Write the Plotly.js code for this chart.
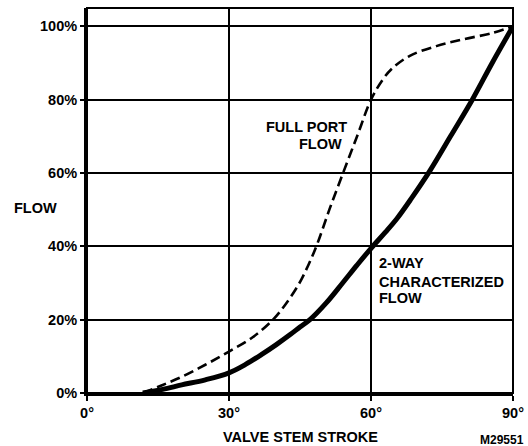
<!DOCTYPE html>
<html>
<head>
<meta charset="utf-8">
<script src="https://cdn.plot.ly/plotly-3.0.1.min.js"></script>
<style>html,body{margin:0;padding:0;background:#fff;}#chart{width:528px;height:446px;}</style>
</head>
<body>
<div id="chart"></div>
<script>
// Data
const fullPortStroke = [11.8, 16, 20, 25, 30, 35, 39.3, 42, 44.8, 46.8, 48.6, 51.2, 54.1, 57.2, 60, 62.5, 64.3, 68.1, 73.8, 79.3, 85.7, 90];
const fullPortFlow   = [0, 2.2, 4.4, 7.7, 11.3, 15.2, 20, 24.3, 29.8, 35, 40.5, 50, 60, 70.5, 80, 85.5, 88.3, 91.9, 94.6, 96.4, 98.2, 100];
const twoWayStroke   = [11.8, 16, 20, 25, 30, 33.5, 37, 40, 43, 45, 47.1, 50.5, 54, 57, 60.1, 63, 65.5, 68.5, 72.4, 76.8, 81.4, 85.6, 90];
const twoWayFlow     = [0, 1, 2.2, 3.6, 5.5, 7.8, 10.6, 13.2, 16, 18, 20, 24.5, 30, 34.8, 39.6, 43.8, 47.6, 53, 60.5, 70, 80, 90, 100];
const xTickVals = [0, 30, 60, 90];
const xTickText = ['0°', '30°', '60°', '90°'];
const yTickVals = [0, 20, 40, 60, 80, 100];
const yTickText = ['0%', '20%', '40%', '60%', '80%', '100%'];

const font = 'Liberation Sans, Arial, sans-serif';
const tf = {family: font, size: 14.5, color: '#000', weight: 'bold'};

const traces = [
  {x: fullPortStroke, y: fullPortFlow, mode: 'lines', type: 'scatter',
   line: {color: '#000', width: 2.6, dash: '10px,5px', shape: 'spline', smoothing: 1.0},
   hoverinfo: 'skip', showlegend: false},
  {x: twoWayStroke, y: twoWayFlow, mode: 'lines', type: 'scatter',
   line: {color: '#000', width: 5, shape: 'spline', smoothing: 1.0},
   hoverinfo: 'skip', showlegend: false}
];

const layout = {
  width: 528, height: 446,
  margin: {l: 87, r: 15, t: 8, b: 53},
  paper_bgcolor: '#fff', plot_bgcolor: '#fff',
  font: tf,
  showlegend: false,
  xaxis: {
    range: [0, 90], tickvals: xTickVals, ticktext: xTickText,
    showgrid: true, gridcolor: '#000', gridwidth: 1.5,
    showline: true, linecolor: '#000', linewidth: 3,
    ticks: 'outside', ticklen: 5, tickwidth: 2, tickcolor: '#000',
    zeroline: false, fixedrange: true,
    tickfont: tf
  },
  yaxis: {
    range: [0, 105], tickvals: yTickVals, ticktext: yTickText,
    showgrid: true, gridcolor: '#000', gridwidth: 2,
    showline: true, linecolor: '#000', linewidth: 3,
    ticks: 'outside', ticklen: 4, tickwidth: 2, tickcolor: '#000',
    zeroline: false, fixedrange: true,
    tickfont: tf
  },
  shapes: [
    {type: 'rect', xref: 'paper', yref: 'paper', x0: 0, x1: 1, y0: 0, y1: 1,
     line: {color: '#000', width: 2}, layer: 'below'}
  ],
  annotations: [
    {text: 'FLOW', xref: 'paper', yref: 'y', x: -0.176, y: 50.5, xanchor: 'left', yanchor: 'middle',
     showarrow: false, font: tf},
    {text: 'VALVE STEM STROKE', xref: 'paper', yref: 'paper', x: 0.502, y: -0.113, xanchor: 'center', yanchor: 'middle',
     showarrow: false, font: tf},
    {text: 'M29551', xref: 'paper', yref: 'paper', x: 1.03, y: -0.122, xanchor: 'right', yanchor: 'middle',
     showarrow: false, font: {family: font, size: 12, color: '#000', weight: 'bold'}},
    {text: 'FULL PORT', xref: 'x', yref: 'y', x: 55.4, y: 72.5, xanchor: 'right', yanchor: 'middle',
     showarrow: false, font: tf},
    {text: 'FLOW', xref: 'x', yref: 'y', x: 54.4, y: 67.8, xanchor: 'right', yanchor: 'middle',
     showarrow: false, font: tf},
    {text: '2-WAY', xref: 'x', yref: 'y', x: 61.2, y: 35.5, xanchor: 'left', yanchor: 'middle',
     showarrow: false, font: tf},
    {text: 'CHARACTERIZED', xref: 'x', yref: 'y', x: 61.2, y: 30.4, xanchor: 'left', yanchor: 'middle',
     showarrow: false, font: tf},
    {text: 'FLOW', xref: 'x', yref: 'y', x: 61.2, y: 26, xanchor: 'left', yanchor: 'middle',
     showarrow: false, font: tf}
  ]
};

Plotly.newPlot('chart', traces, layout, {staticPlot: true, displayModeBar: false});
</script>
</body>
</html>
